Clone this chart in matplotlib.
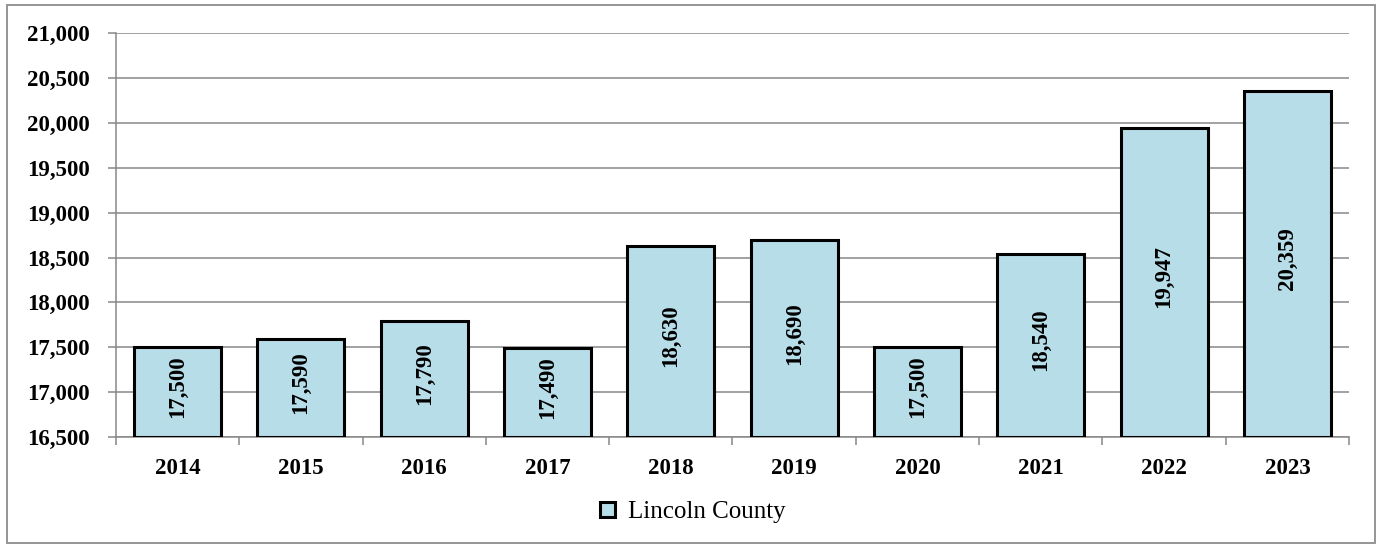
import matplotlib
matplotlib.use('Agg')
import matplotlib.pyplot as plt
from matplotlib.patches import Rectangle
from matplotlib.ticker import FuncFormatter, MultipleLocator

# data
years = ['2014', '2015', '2016', '2017', '2018', '2019', '2020', '2021', '2022', '2023']
values = [17500, 17590, 17790, 17490, 18630, 18690, 17500, 18540, 19947, 20359]
series_name = 'Lincoln County'
y_min, y_max, y_step = 16500, 21000, 500

plt.rcParams['font.family'] = ['Liberation Serif', 'DejaVu Serif']

fig = plt.figure(figsize=(13.77, 5.45), dpi=100)
ax = fig.add_axes([0.0842, 0.198, 0.8955, 0.7414])

# outer chart border
fig.patches.append(Rectangle((0.005, 0.003), 0.9935, 0.9875, transform=fig.transFigure,
                             fill=False, edgecolor='#8c8c8c', linewidth=1.3))

x = list(range(len(years)))
bars = ax.bar(x, [v - y_min for v in values], bottom=y_min, width=0.705,
              color='#b7dde8', edgecolor='black', linewidth=2.2,
              label=series_name, zorder=3)

for xi, v in zip(x, values):
    ax.text(xi, (y_min + v) / 2 + 60, f'{v:,}', rotation=90, ha='center', va='center',
            fontsize=16.5, fontweight='bold', zorder=4)

ax.set_xlim(-0.5, len(years) - 0.5)
ax.set_ylim(y_min, y_max)
ax.yaxis.set_major_locator(MultipleLocator(y_step))
ax.yaxis.set_major_formatter(FuncFormatter(lambda v, p: f'{int(v):,}'))
ax.grid(axis='y', color='#888888', linewidth=1.1, zorder=0)

# category labels between ticks
ax.set_xticks([i - 0.5 for i in range(len(years) + 1)])
ax.set_xticklabels([])
ax.set_xticks(x, minor=True)
ax.set_xticklabels(years, minor=True, fontsize=16.5, fontweight='bold')
ax.tick_params(axis='x', which='minor', length=0, pad=15)
ax.tick_params(axis='x', which='major', length=6, width=1.1, color='#888888')
ax.tick_params(axis='y', length=6, width=1.1, color='#888888', pad=13)
for lab in ax.get_yticklabels():
    lab.set_fontsize(16.5)
    lab.set_fontweight('bold')

for side in ['top', 'right']:
    ax.spines[side].set_visible(False)
for side in ['left', 'bottom']:
    ax.spines[side].set_color('#888888')
    ax.spines[side].set_linewidth(1.1)

fig.legend(handles=[bars], labels=[series_name], loc='center', bbox_to_anchor=(0.503, 0.06),
           frameon=False, fontsize=18, handlelength=0.6, handleheight=0.6, handletextpad=0.5)

plt.savefig('out.png', dpi=100)
